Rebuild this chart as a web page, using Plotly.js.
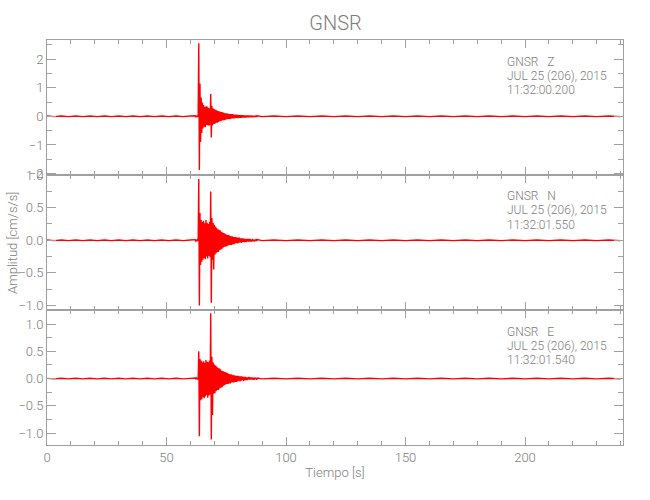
<!DOCTYPE html>
<html>
<head>
<meta charset="utf-8">
<script src="https://cdn.plot.ly/plotly-3.0.1.min.js"></script>
<style>html,body{margin:0;padding:0;background:#fff;}</style>
</head>
<body>
<div id="chart" style="width:650px;height:500px;"></div>
<script>
// ---- data ----
const station = 'GNSR';
const components = ['Z', 'N', 'E'];
const dateLabel = 'JUL 25 (206), 2015';
const startTimes = ['11:32:00.200', '11:32:01.550', '11:32:01.540'];

// sparse pre-event samples (s)
const preT = [0,3,6,9,12,15,18,21,24,27,30,33,36,39,42,45,48,51,54,57,60];
// dense event window: starts at 62 s, 0.25 s sampling, 105 samples (62..88 s)
const eventStart = 62;
const eventStep = 0.25;
// sparse post-event samples (s)
const postT = [90,95,100,105,110,115,120,125,130,135,140,145,150,155,160,165,170,175,180,185,190,195,200,205,210,215,220,225,230,235,240];

const zPre = [0.01,-0.01,0.01,-0.01,0.01,-0.01,0.01,-0.01,0.01,-0.01,0.01,-0.01,0.01,-0.01,0.01,-0.01,0.01,-0.01,0.01,-0.01,0.01];
const zEvent = [
 0.02,-0.03,0.02,-0.02,0.03,-0.02,
 2.56,-1.88,1.15,-0.90,0.66,-0.58,0.48,-0.42,
 0.40,-0.36,0.33,-0.38,0.35,-0.30,0.34,-0.31,
 0.30,-0.33,0.28,-0.30,
 0.78,-0.74,
 0.36,-0.32,0.28,-0.27,0.25,-0.26,0.23,-0.22,
 0.21,-0.22,0.19,-0.20,0.18,-0.17,0.16,-0.17,
 0.15,-0.14,0.14,-0.13,0.12,-0.13,0.11,-0.12,
 0.11,-0.10,0.10,-0.09,0.09,-0.10,0.08,-0.09,
 0.08,-0.07,0.08,-0.07,0.06,-0.07,0.06,-0.06,
 0.06,-0.05,0.05,-0.06,0.05,-0.05,0.04,-0.05,
 0.04,-0.05,0.04,-0.04,0.04,-0.04,0.03,-0.04,
 0.03,-0.04,0.03,-0.03,0.03,-0.03,0.03,-0.03,
 0.02,-0.03,0.03,-0.02,0.02,-0.03,0.02,-0.02,
 0.02,-0.02,0.03,-0.02,0.02];
const zPost = [-0.01,0.01,-0.01,0.01,-0.01,0.01,-0.01,0.01,-0.01,0.01,-0.01,0.01,-0.01,0.01,-0.01,0.01,-0.01,0.01,-0.01,0.01,-0.01,0.01,-0.01,0.01,-0.01,0.01,-0.01,0.01,-0.01,0.01,-0.01];

const nPre = [0.005,-0.005,0.005,-0.005,0.005,-0.005,0.005,-0.005,0.005,-0.005,0.005,-0.005,0.005,-0.005,0.005,-0.005,0.005,-0.005,0.005,-0.005,0.005];
const nEvent = [
 0.01,-0.02,0.01,-0.01,0.02,-0.01,
 0.94,-1.00,0.42,-0.38,0.31,-0.33,0.28,-0.30,
 0.30,-0.27,0.26,-0.29,0.31,-0.25,0.27,-0.28,
 0.25,-0.24,0.28,-0.26,
 0.75,-0.96,
 0.34,-0.30,0.27,-0.45,0.24,-0.22,0.21,-0.20,
 0.19,-0.18,0.17,-0.18,0.16,-0.15,0.15,-0.14,
 0.13,-0.13,0.12,-0.11,0.11,-0.10,0.10,-0.10,
 0.09,-0.09,0.08,-0.08,0.08,-0.07,0.07,-0.07,
 0.06,-0.07,0.06,-0.06,0.05,-0.06,0.05,-0.05,
 0.05,-0.04,0.04,-0.05,0.04,-0.04,0.04,-0.03,
 0.03,-0.04,0.03,-0.03,0.03,-0.03,0.02,-0.03,
 0.02,-0.03,0.02,-0.02,0.02,-0.02,0.02,-0.02,
 0.02,-0.02,0.01,-0.02,0.02,-0.01,0.01,-0.02,
 0.01,-0.01,0.02,-0.01,0.01];
const nPost = [-0.005,0.005,-0.005,0.005,-0.005,0.005,-0.005,0.005,-0.005,0.005,-0.005,0.005,-0.005,0.005,-0.005,0.005,-0.005,0.005,-0.005,0.005,-0.005,0.005,-0.005,0.005,-0.005,0.005,-0.005,0.005,-0.005,0.005,-0.005];

const ePre = [0.005,-0.005,0.005,-0.005,0.005,-0.005,0.005,-0.005,0.005,-0.005,0.005,-0.005,0.005,-0.005,0.005,-0.005,0.005,-0.005,0.005,-0.005,0.005];
const eEvent = [
 0.01,-0.01,0.02,-0.01,0.01,-0.02,
 0.50,-1.06,0.36,-0.40,0.33,-0.38,0.30,-0.34,
 0.32,-0.36,0.29,-0.33,0.34,-0.30,0.31,-0.35,
 0.30,-0.31,0.33,-0.29,
 1.20,-1.12,
 0.40,-0.67,0.30,-0.28,0.26,-0.27,0.24,-0.23,
 0.22,-0.21,0.20,-0.21,0.19,-0.18,0.17,-0.17,
 0.15,-0.16,0.14,-0.13,0.13,-0.12,0.12,-0.11,
 0.11,-0.10,0.10,-0.10,0.09,-0.09,0.08,-0.09,
 0.08,-0.07,0.07,-0.07,0.06,-0.07,0.06,-0.06,
 0.05,-0.06,0.05,-0.05,0.05,-0.04,0.04,-0.05,
 0.04,-0.04,0.04,-0.03,0.03,-0.04,0.03,-0.03,
 0.03,-0.03,0.02,-0.03,0.02,-0.02,0.03,-0.02,
 0.02,-0.02,0.02,-0.02,0.02,-0.02,0.01,-0.02,
 0.02,-0.01,0.01,-0.02,0.01];
const ePost = [-0.005,0.005,-0.005,0.005,-0.005,0.005,-0.005,0.005,-0.005,0.005,-0.005,0.005,-0.005,0.005,-0.005,0.005,-0.005,0.005,-0.005,0.005,-0.005,0.005,-0.005,0.005,-0.005,0.005,-0.005,0.005,-0.005,0.005,-0.005];

const yTitle = 'Amplitud [cm/s/s]';
const xTitle = 'Tiempo [s]';

// ---- build ----
const eventT = zEvent.map((_, i) => eventStart + i * eventStep);
const tAll = preT.concat(eventT, postT);
const series = [
  zPre.concat(zEvent, zPost),
  nPre.concat(nEvent, nPost),
  ePre.concat(eEvent, ePost)
];
// panel order top->bottom: Z (x3/y3), N (x2/y2), E (x/y)
const axisIds = [['x3','y3'], ['x2','y2'], ['x','y']];

const traces = series.map((ys, k) => ({
  type: 'scatter', mode: 'lines',
  x: tAll, y: ys,
  xaxis: axisIds[k][0], yaxis: axisIds[k][1],
  line: {color: 'rgb(255,0,0)', width: 1.4},
  hoverinfo: 'skip'
}));

const F = 'Roboto, "Liberation Sans", sans-serif';
const W = 300;
const AX = 'rgb(160,160,160)';
const TX = 'rgb(125,125,125)';

function xAxis(anchor, labels) {
  return {
    anchor: anchor, domain: [0, 1], range: [0, 241],
    tick0: 0, dtick: 50, ticks: 'inside', ticklen: 8, tickwidth: 1, tickcolor: AX,
    minor: {dtick: 10, tick0: 0, ticks: 'inside', ticklen: 4, tickcolor: AX, showgrid: false},
    showline: true, linecolor: AX, linewidth: 1, mirror: 'ticks',
    showgrid: false, zeroline: false, showticklabels: labels,
    tickfont: {family: F, size: 13, color: TX, weight: W}
  };
}
function yAxis(anchor, domain, range, dtick, minorDtick, fmt) {
  return {
    anchor: anchor, domain: domain, range: range,
    tick0: 0, dtick: dtick, tickformat: fmt,
    ticks: 'inside', ticklen: 9, tickwidth: 1, tickcolor: AX,
    minor: {dtick: minorDtick, tick0: 0, ticks: 'inside', ticklen: 5, tickcolor: AX, showgrid: false},
    showline: true, linecolor: AX, linewidth: 1, mirror: 'ticks',
    showgrid: false, zeroline: false,
    tickfont: {family: F, size: 13, color: TX, weight: W}
  };
}

const xa = xAxis('y', true);
xa.title = {text: xTitle, font: {family: F, size: 13, color: TX, weight: W}, standoff: 4};

const layout = {
  width: 650, height: 500,
  margin: {l: 47, r: 27, t: 40, b: 55, pad: 0},
  paper_bgcolor: 'white', plot_bgcolor: 'white',
  showlegend: false,
  font: {family: F, size: 13, color: TX, weight: W},
  title: {text: station, font: {family: F, size: 20, color: TX, weight: W},
          xref: 'paper', x: 0.501, xanchor: 'center', yref: 'container', y: 0.955, yanchor: 'middle'},
  xaxis: xa,
  xaxis2: Object.assign(xAxis('y2', false), {matches: 'x'}),
  xaxis3: Object.assign(xAxis('y3', false), {matches: 'x'}),
  yaxis: yAxis('x', [0, 0.3333], [-1.22, 1.26], 0.5, 0.25, '.1f'),
  yaxis2: yAxis('x2', [0.3333, 0.6667], [-1.07, 1.002], 0.5, 0.25, '.1f'),
  yaxis3: yAxis('x3', [0.6667, 1], [-2.05, 2.67], 1, 0.5, 'd'),
  annotations: []
};

// header text blocks (pixel rows converted to paper coords)
const plotTop = 40, plotH = 405;
const rows = [[61.5, 75.5, 90], [196, 210.5, 225], [331.5, 345.5, 360]];
const sp = '\u00a0\u00a0\u00a0';
components.forEach((c, k) => {
  const lines = [station + sp + c, dateLabel, startTimes[k]];
  lines.forEach((txt, j) => {
    layout.annotations.push({
      text: txt, xref: 'paper', yref: 'paper',
      x: 0.797, y: 1 - (rows[k][j] - plotTop) / plotH,
      xanchor: 'left', yanchor: 'middle', showarrow: false,
      borderpad: 0,
      font: {family: F, size: 12, color: TX, weight: W}
    });
  });
});
layout.annotations.push({
  text: yTitle, textangle: -90, xref: 'paper', yref: 'paper',
  x: -0.06, y: 0.5, xanchor: 'center', yanchor: 'middle', showarrow: false,
  font: {family: F, size: 13, color: TX, weight: W}
});

Plotly.newPlot('chart', traces, layout, {displayModeBar: false, staticPlot: true});
</script>
</body>
</html>
